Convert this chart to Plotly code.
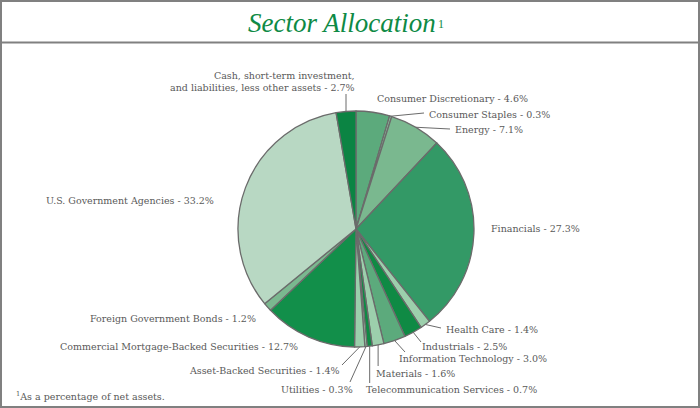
import numpy as np
import plotly.graph_objects as go

sectors = ["Consumer Discretionary", "Consumer Staples", "Energy", "Financials",
           "Health Care", "Industrials", "Information Technology", "Materials",
           "Telecommunication Services", "Utilities", "Asset-Backed Securities",
           "Commercial Mortgage-Backed Securities", "Foreign Government Bonds",
           "U.S. Government Agencies",
           "Cash, short-term investment,<br>and liabilities, less other assets"]
weights = [4.6, 0.3, 7.1, 27.3, 1.4, 2.5, 3.0, 1.6, 0.7, 0.3, 1.4, 12.7, 1.2, 33.2, 2.7]
colors = ["#5caa7c", "#8cc49f", "#7ab88f", "#339966", "#9ccfac", "#0f8a44",
          "#5caa7c", "#9ccfac", "#0f8a44", "#9ccfac", "#9ccfac", "#128f4a",
          "#7ab88f", "#b8d8c3", "#0b8443"]

W, H = 700, 408
CX, CY, R = 356, 229, 118  # pie centre / radius in px

# label placement (px): x, y, anchor, leader-line end (or None)
label_pos = [
    (375, 98, "left", None),
    (427, 114, "left", (424, 113)),
    (453, 129, "left", (450, 129)),
    (489, 228, "left", None),
    (444, 329, "left", (441, 328)),
    (420, 346, "left", (421, 342)),
    (397, 358, "left", (405, 352)),
    (374, 373, "left", None),
    (364, 389, "left", None),
    (355, 389, "right", (350, 382)),
    (342, 370, "right", (342, 365)),
    (300, 346, "right", None),
    (258, 318, "right", None),
    (216, 200, "right", None),
    (357, 82, "right", None),
]


def px(x):
    return x / W


def py(y):
    return 1 - y / H


fig = go.Figure(go.Pie(
    values=weights, labels=sectors, sort=False, direction="clockwise",
    rotation=0, textinfo="none", hoverinfo="label+percent",
    marker=dict(colors=colors, line=dict(color="#6b6b6b", width=1.3)),
    domain=dict(x=[px(CX - R), px(CX + R)], y=[py(CY + R), py(CY - R)]),
    showlegend=False,
))

# slice mid angles from data
cum = np.cumsum(weights) - np.array(weights) / 2
theta = 2 * np.pi * cum / sum(weights)
edge_x = CX + R * np.sin(theta)
edge_y = CY - R * np.cos(theta)

lbl_font = dict(family="DejaVu Serif", size=9.5, color="#595959")
shapes = []
annotations = []
for i, (name, v) in enumerate(zip(sectors, weights)):
    lx, ly, anchor, lend = label_pos[i]
    annotations.append(dict(
        x=px(lx), y=py(ly), xref="paper", yref="paper", xanchor=anchor,
        yanchor="middle", text=f"{name} - {v:.1f}%", showarrow=False,
        align="right", font=lbl_font))
    if lend is not None:
        shapes.append(dict(type="line", xref="paper", yref="paper",
                           x0=px(edge_x[i]), y0=py(edge_y[i]),
                           x1=px(lend[0]), y1=py(lend[1]),
                           line=dict(color="#6b6b6b", width=1)))

# vertical leaders for materials / telecom / cash
for i, top in [(7, 366), (8, 383), (14, 94)]:
    shapes.append(dict(type="line", xref="paper", yref="paper",
                       x0=px(edge_x[i]), y0=py(edge_y[i]),
                       x1=px(edge_x[i]), y1=py(top),
                       line=dict(color="#6b6b6b", width=1)))

# frame and title rule
shapes.append(dict(type="rect", xref="paper", yref="paper", x0=px(1), y0=py(407),
                   x1=px(699), y1=py(1), line=dict(color="#808080", width=2)))
shapes.append(dict(type="line", xref="paper", yref="paper", x0=0, x1=1,
                   y0=py(42.5), y1=py(42.5), line=dict(color="#808080", width=2)))

annotations.append(dict(
    x=px(342), y=py(23), xref="paper", yref="paper", xanchor="center", yanchor="middle",
    text="<i>Sector Allocation</i>", showarrow=False,
    font=dict(family="Liberation Serif", size=27, color="#0e8a45")))
annotations.append(dict(
    x=px(436), y=py(24), xref="paper", yref="paper", xanchor="left", yanchor="middle",
    text="1", showarrow=False,
    font=dict(family="Liberation Serif", size=12, color="#0e8a45")))
annotations.append(dict(
    x=px(14), y=py(396), xref="paper", yref="paper", xanchor="left", yanchor="middle",
    text="<sup>1</sup>As a percentage of net assets.", showarrow=False,
    font=lbl_font))

fig.update_layout(
    width=W, height=H, margin=dict(l=0, r=0, t=0, b=0),
    paper_bgcolor="white", plot_bgcolor="white",
    shapes=shapes, annotations=annotations,
)

fig.write_html("out.html", config={"displayModeBar": False},
               post_script="document.body.style.margin='0';")
